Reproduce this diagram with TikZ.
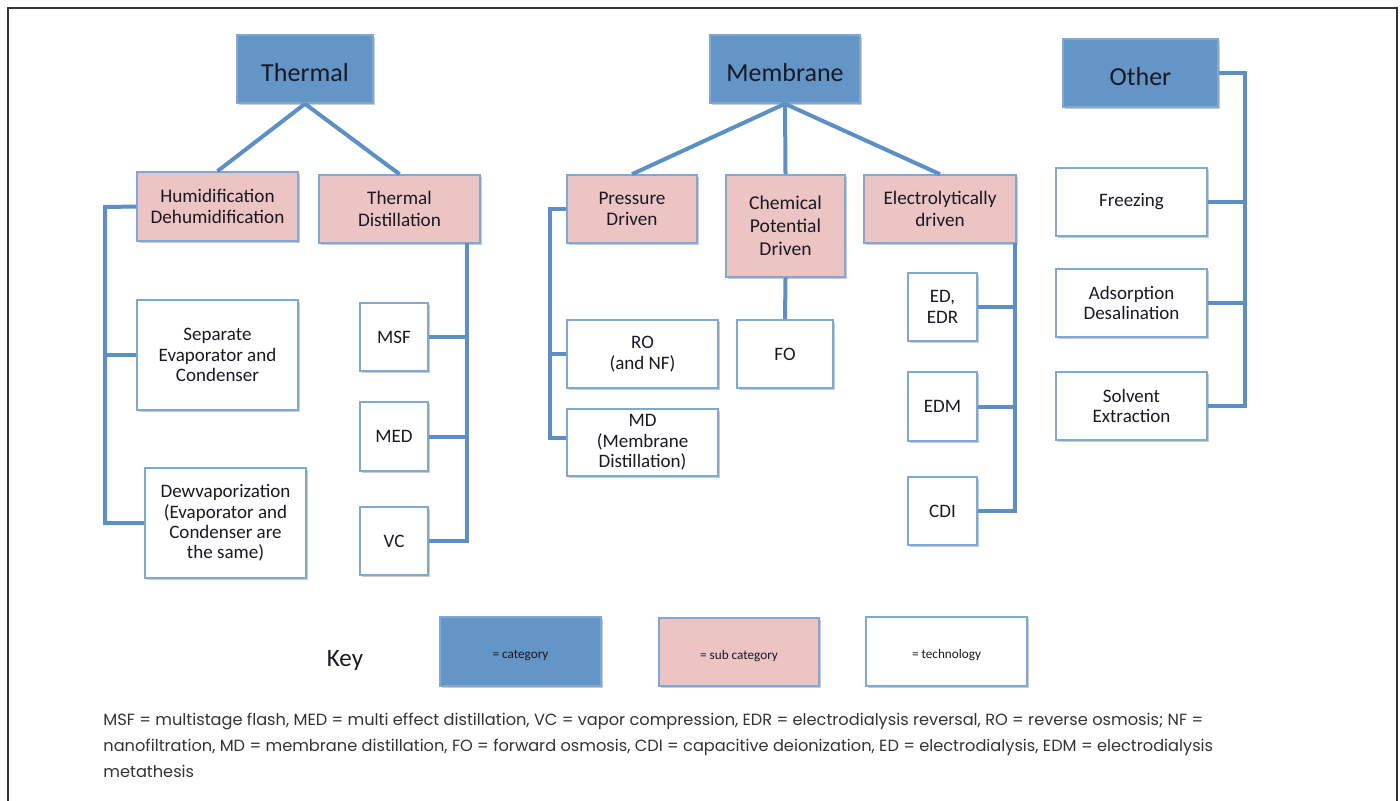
\documentclass[tikz,border=0pt]{standalone}
\usepackage{fontspec}
\setmainfont{Carlito}
\newfontfamily\notefont{Poppins}
\usetikzlibrary{shadows}
\definecolor{catfill}{RGB}{99,149,199}
\definecolor{subfill}{RGB}{236,196,195}
\definecolor{boxline}{RGB}{128,168,212}
\definecolor{conn}{RGB}{92,143,198}
\definecolor{txt}{RGB}{25,25,35}
\tikzset{
  basebox/.style={draw=boxline, line width=0.8pt, inner sep=0pt, align=center, text=txt,
    drop shadow={shadow xshift=0.8pt, shadow yshift=-0.9pt, fill=black!45, opacity=0.45}},
  catbox/.style={basebox, fill=catfill, font=\fontsize{13}{15}\selectfont, text height=12pt, text depth=0pt},
  subbox/.style={basebox, fill=subfill, font=\fontsize{9.6}{10.8}\selectfont},
  techbox/.style={basebox, fill=white, font=\fontsize{9.5}{10.2}\selectfont},
  keybox/.style={basebox, font=\fontsize{6.6}{8}\selectfont, text height=7.2pt, text depth=0pt},
  link/.style={draw=conn, line width=2pt},
  note/.style={anchor=base west, inner sep=0pt, text=black!80, font=\notefont\fontsize{8.1}{9}\selectfont}
}
% \mybox{style}{name}{x1}{y1}{x2}{y2}{text}
\newcommand\mybox[7]{%
  \pgfmathsetmacro\bcx{(#3+#5)/2}%
  \pgfmathsetmacro\bcy{(#4+#6)/2}%
  \pgfmathsetmacro\bw{(#5-#3)*0.5}%
  \pgfmathsetmacro\bh{(#6-#4)*0.5}%
  \node[#1, minimum width=\bw pt, minimum height=\bh pt] (#2) at (\bcx,\bcy) {#7};}
\begin{document}
\begin{tikzpicture}[x=0.5pt,y=-0.5pt]
\useasboundingbox (0,0) rectangle (1400,800);
% frame
\draw[black!80, line width=0.9pt] (8,805) -- (8,8) -- (1397,8) -- (1397,805);

% categories
\mybox{catbox}{thermal}{237}{35}{373}{103}{Thermal}
\mybox{catbox}{membrane}{710}{35}{860}{103}{Membrane}
\mybox{catbox}{other}{1063}{39}{1218}{107}{Other}

% sub categories
\mybox{subbox}{humid}{137}{172}{298}{241}{Humidification\\Dehumidification}
\mybox{subbox}{tdist}{319}{175}{480}{243}{Thermal\\Distillation}
\mybox{subbox}{press}{567}{175}{697}{243}{Pressure\\Driven}
\mybox{subbox, font=\fontsize{9.8}{11.4}\selectfont}{chem}{726}{175}{845}{277}{Chemical\\Potential\\Driven}
\mybox{subbox}{electro}{864}{175}{1016}{243}{Electrolytically\\driven}

% technologies
\mybox{techbox}{sep}{137}{300}{298}{410}{Separate\\Evaporator and\\Condenser}
\mybox{techbox}{dew}{145}{468}{306}{578}{Dewvaporization\\(Evaporator and\\Condenser are\\the same)}
\mybox{techbox}{msf}{360}{303}{428}{371}{MSF}
\mybox{techbox}{med}{360}{402}{428}{471}{MED}
\mybox{techbox}{vc}{360}{507}{428}{575}{VC}
\mybox{techbox}{ro}{567}{320}{718}{388}{RO\\(and NF)}
\mybox{techbox}{md}{567}{409}{718}{476}{MD\\(Membrane\\Distillation)}
\mybox{techbox}{fo}{737}{320}{833}{388}{FO}
\mybox{techbox}{ed}{908}{273}{977}{341}{ED,\\EDR}
\mybox{techbox}{edm}{908}{372}{977}{441}{EDM}
\mybox{techbox}{cdi}{908}{477}{977}{545}{CDI}
\mybox{techbox}{freeze}{1056}{168}{1207}{236}{Freezing}
\mybox{techbox}{adsorb}{1056}{269}{1207}{337}{Adsorption\\Desalination}
\mybox{techbox}{solvent}{1056}{372}{1207}{440}{Solvent\\Extraction}

% bus coordinates
\coordinate (hbus) at (105,207);
\coordinate (tbus) at (467,243);
\coordinate (pbus) at (550,209);
\coordinate (ebus) at (1015,243);
\coordinate (obus) at (1245,73);

% connectors
\draw[link] (thermal.south) -- (humid.north);
\draw[link] (thermal.south) -- (tdist.north);
\draw[link] (membrane.south) -- (press.north);
\draw[link] (membrane.south) -- (chem.north);
\draw[link] (membrane.south) -- (electro.north);
\draw[link] (chem.south) -- (fo.north);

\draw[link] (humid.west) -- (hbus) |- (dew.west);
\draw[link] (sep.west) -- (sep.west -| hbus);

\draw[link] (tbus) |- (vc.east);
\draw[link] (msf.east) -- (msf.east -| tbus);
\draw[link] (med.east) -- (med.east -| tbus);

\draw[link] (press.west) -- (pbus) |- ([yshift=2.5pt]md.west);
\draw[link] (ro.west) -- (ro.west -| pbus);

\draw[link] (ebus) |- (cdi.east);
\draw[link] (ed.east) -- (ed.east -| ebus);
\draw[link] (edm.east) -- (edm.east -| ebus);

\draw[link] (other.east) -- (obus) |- (solvent.east);
\draw[link] (freeze.east) -- (freeze.east -| obus);
\draw[link] (adsorb.east) -- (adsorb.east -| obus);

% key
\node[anchor=center, text=txt, font=\fontsize{12.5}{14}\selectfont, inner sep=0pt] (keylabel) at (345,660) {Key};
\mybox{keybox, fill=catfill}{kcat}{440}{617}{601}{686}{= category}
\mybox{keybox, fill=subfill}{ksub}{659}{618}{819}{686}{= sub category}
\mybox{keybox, fill=white}{ktech}{866}{617}{1027}{686}{= technology}

% footnote
\node[note] (n1) at (103,725) {MSF = multistage flash, MED = multi effect distillation, VC = vapor compression, EDR = electrodialysis reversal, RO = reverse osmosis; NF =};
\node[note] (n2) at (103,751) {nanofiltration, MD = membrane distillation, FO = forward osmosis, CDI = capacitive deionization, ED = electrodialysis, EDM = electrodialysis};
\node[note] (n3) at (103,777) {metathesis};
\end{tikzpicture}
\end{document}
